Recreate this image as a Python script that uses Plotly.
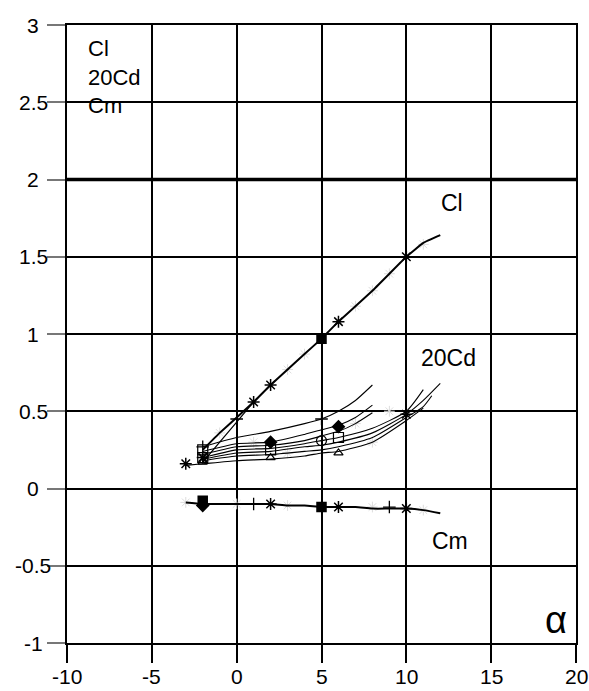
import plotly.graph_objects as go

# ---------------- data ----------------
x_tickvals = [-10, -5, 0, 5, 10, 15, 20]
x_ticktext = ["-10", "-5", "0", "5", "10", "15", "20"]
y_tickvals = [-1, -0.5, 0, 0.5, 1, 1.5, 2, 2.5, 3]
y_ticktext = ["-1", "-0.5", "0", "0.5", "1", "1.5", "2", "2.5", "3"]

# Cl curve
cl_alpha = [-2, -1, 0, 1, 2, 3, 4, 5, 6, 7, 8, 9, 10, 11, 12]
cl_vals = [0.25, 0.36, 0.46, 0.56, 0.67, 0.77, 0.87, 0.97, 1.08, 1.18, 1.28, 1.39, 1.50, 1.59, 1.64]
cl2_alpha = [-2, -1, 0, 1]
cl2_vals = [0.17, 0.30, 0.43, 0.56]

# 20Cd curves
cd1_alpha = [-2, 0, 2, 4, 5, 6, 7, 8]
cd1_vals = [0.27, 0.33, 0.37, 0.42, 0.45, 0.50, 0.57, 0.67]
cd2_alpha = [-2, 0, 2, 4, 5, 6, 7, 8]
cd2_vals = [0.24, 0.29, 0.30, 0.35, 0.38, 0.41, 0.46, 0.54]
cd3_alpha = [-2, 0, 2, 4, 5, 6, 7, 8]
cd3_vals = [0.22, 0.27, 0.28, 0.31, 0.34, 0.37, 0.42, 0.49]
cd4_alpha = [-2, 0, 2, 4, 5, 6, 8, 10, 11]
cd4_vals = [0.20, 0.25, 0.26, 0.29, 0.31, 0.33, 0.39, 0.50, 0.64]
cd5_alpha = [-2, 0, 2, 4, 5, 6, 8, 10, 11, 12]
cd5_vals = [0.19, 0.23, 0.24, 0.27, 0.28, 0.30, 0.36, 0.48, 0.57, 0.68]
cd6_alpha = [-2, 0, 2, 4, 5, 6, 8, 10, 11, 11.5]
cd6_vals = [0.18, 0.21, 0.22, 0.24, 0.25, 0.27, 0.33, 0.46, 0.53, 0.60]
cd7_alpha = [-3, -2, 0, 2, 4, 5, 6, 8, 10, 11]
cd7_vals = [0.15, 0.16, 0.18, 0.19, 0.21, 0.23, 0.24, 0.30, 0.44, 0.52]

# Cm curve
cm_alpha = [-3, -2, -1, 0, 1, 2, 3, 4, 5, 6, 7, 8, 9, 10, 11, 12]
cm_vals = [-0.09, -0.10, -0.10, -0.10, -0.10, -0.10, -0.11, -0.11, -0.12, -0.12, -0.12, -0.13, -0.13, -0.13, -0.14, -0.16]

# markers
star_alpha = [1, 2, 6, 10, -3, 10, 2, 6, 10, -2]
star_vals = [0.56, 0.67, 1.08, 1.50, 0.16, 0.48, -0.10, -0.12, -0.13, 0.20]
fsq_alpha = [5, -2, 5]
fsq_vals = [0.97, -0.08, -0.12]
dia_alpha = [2, 6, -2]
dia_vals = [0.30, 0.40, -0.11]
osq_alpha = [-2, -2, 2, 6]
osq_vals = [0.25, 0.20, 0.25, 0.33]
circ_alpha = [5]
circ_vals = [0.31]
tri_alpha = [2, 6, -2]
tri_vals = [0.20, 0.23, 0.17]
plus_alpha = [5, -2, 1, 9, 0]
plus_vals = [0.45, 0.27, -0.10, -0.12, 0.45]

gray_alpha = [-1, 3, 4, 7, 8, 9, 11, -3, 0, 3, 8, 11, 7, 9, 8, 3, 1]
gray_vals = [0.36, 0.77, 0.87, 1.18, 1.28, 1.39, 1.58, -0.09, -0.10, -0.11, -0.12, -0.14, 0.42, 0.50, 0.30, 0.23, 0.30]

# ---------------- figure ----------------
fig = go.Figure()

def line(xs, ys, w=1.3, color="black", smoothing=0.6):
    fig.add_trace(go.Scatter(x=xs, y=ys, mode="lines",
                             line=dict(color=color, width=w, shape="spline", smoothing=smoothing),
                             showlegend=False, hoverinfo="skip"))

def marks(xs, ys, symbol, size=10, color="black", lw=1.5):
    fig.add_trace(go.Scatter(x=xs, y=ys, mode="markers",
                             marker=dict(symbol=symbol, size=size, color=color,
                                         line=dict(color=color, width=lw)),
                             showlegend=False, hoverinfo="skip"))

marks(gray_alpha, gray_vals, "asterisk-open", size=9, color="#dddddd", lw=1)

line(cl_alpha, cl_vals, w=2, smoothing=0.3)
line(cl2_alpha, cl2_vals, w=1.2)
for a, v in [(cd1_alpha, cd1_vals), (cd2_alpha, cd2_vals), (cd3_alpha, cd3_vals),
             (cd4_alpha, cd4_vals), (cd5_alpha, cd5_vals), (cd6_alpha, cd6_vals),
             (cd7_alpha, cd7_vals)]:
    line(a, v, w=1.1)
line(cm_alpha, cm_vals, w=2)

marks(star_alpha, star_vals, "asterisk-open", size=10, lw=1.5)
marks(fsq_alpha, fsq_vals, "square", size=9)
marks(dia_alpha, dia_vals, "diamond", size=9)
marks(osq_alpha, osq_vals, "square-open", size=10, lw=1.2)
marks(circ_alpha, circ_vals, "circle-open", size=10, lw=1.2)
marks(tri_alpha, tri_vals, "triangle-up-open", size=8, lw=1.2)
marks(plus_alpha, plus_vals, "cross-thin-open", size=9, lw=1.3)

# thick reference line at 2
fig.add_shape(type="line", xref="x", yref="y", x0=-10, x1=20, y0=2, y1=2,
              line=dict(color="black", width=3.5), layer="below")

font_family = "Liberation Sans, Arial, sans-serif"
tick_font = dict(size=21, color="black", family=font_family)

# tick labels (centred text, as in the reference)
for v, t in zip(y_tickvals, y_ticktext):
    fig.add_annotation(x=-0.066, xref="paper", y=v, yref="y", text=t, showarrow=False,
                       xanchor="center", yanchor="middle", font=tick_font)
for v, t in zip(x_tickvals, x_ticktext):
    fig.add_annotation(x=v, xref="x", y=-0.054, yref="paper", text=t, showarrow=False,
                       xanchor="center", yanchor="middle", font=tick_font)

fig.add_annotation(x=-8.9, y=2.663, xref="x", yref="y", xanchor="left", yanchor="middle",
                   text="Cl<br>20Cd<br>Cm", showarrow=False, align="left",
                   font=dict(size=22, color="black", family=font_family))
fig.add_annotation(x=12.7, y=1.845, xref="x", yref="y", text="Cl", showarrow=False,
                   font=dict(size=23, color="black", family=font_family))
fig.add_annotation(x=12.5, y=0.845, xref="x", yref="y", text="20Cd", showarrow=False,
                   font=dict(size=23, color="black", family=font_family))
fig.add_annotation(x=12.6, y=-0.34, xref="x", yref="y", text="Cm", showarrow=False,
                   font=dict(size=23, color="black", family=font_family))
fig.add_annotation(x=18.8, y=-0.85, xref="x", yref="y", text="α", showarrow=False,
                   font=dict(size=38, color="black", family=font_family))

fig.update_xaxes(range=[-10, 20], tickvals=x_tickvals, showticklabels=False,
                 showgrid=True, gridcolor="black", gridwidth=2,
                 showline=True, mirror=True, linecolor="black", linewidth=2,
                 ticks="outside", ticklen=18, tickwidth=2, tickcolor="black",
                 zeroline=False, automargin=False)
fig.update_yaxes(range=[-1, 3], tickvals=y_tickvals, showticklabels=False,
                 showgrid=True, gridcolor="black", gridwidth=2,
                 showline=True, mirror=True, linecolor="black", linewidth=2,
                 ticks="outside", ticklen=18, tickwidth=2, tickcolor="#777",
                 zeroline=False, automargin=False)

fig.update_layout(width=589, height=691,
                  margin=dict(l=67, r=13, t=25, b=48, autoexpand=False),
                  paper_bgcolor="white", plot_bgcolor="white",
                  showlegend=False)

fig.write_html("out.html", config={"displayModeBar": False},
               post_script="document.body.style.margin='0';document.body.style.overflow='hidden';")
